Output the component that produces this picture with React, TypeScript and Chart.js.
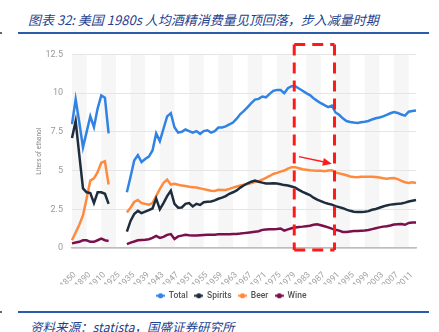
import React, { useEffect, useRef } from 'react';
import { Chart, registerables } from 'chart.js';

Chart.register(...registerables);

// ---- categories ----
const earlyLabels = ['1850', '1860', '1870', '1880', '1890', '1895', '1900', '1905', '1910', '1915', '1919'];
const gapLabels = ['1920', '1925', '1930', '1933'];
const modernYears: string[] = Array.from({ length: 80 }, (_, i) => String(1934 + i));
const categories = [...earlyLabels, ...gapLabels, ...modernYears];
const GAP: (number | null)[] = [null, null, null, null];

// ---- series (liters of ethanol per capita) ----
const totalEarly = [8.0, 9.6, 8.1, 6.5, 7.5, 8.5, 7.8, 9.0, 9.85, 9.7, 7.4];
const totalModern = [
  3.6, 4.6, 5.65, 6.0, 5.55, 5.75, 5.9, 6.3, 7.4, 6.9,
  7.7, 8.5, 8.7, 7.8, 7.45, 7.5, 7.65, 7.55, 7.45, 7.55,
  7.37, 7.55, 7.6, 7.45, 7.55, 7.78, 7.78, 7.85, 7.98, 8.1,
  8.35, 8.65, 8.85, 9.1, 9.35, 9.58, 9.63, 9.78, 9.73, 9.95,
  10.15, 10.2, 10.2, 10.0, 10.32, 10.45, 10.45, 10.3, 10.15, 10.0,
  9.87, 9.67, 9.5, 9.35, 9.22, 9.1, 9.2, 8.75, 8.6, 8.37,
  8.2, 8.14, 8.1, 8.07, 8.12, 8.15, 8.2, 8.3, 8.38, 8.43,
  8.5, 8.6, 8.7, 8.78, 8.72, 8.62, 8.55, 8.8, 8.85, 8.88,
];
const spiritsEarly = [7.1, 8.2, 6.0, 3.85, 3.6, 3.55, 2.9, 3.6, 3.6, 3.5, 2.85];
const spiritsModern = [
  1.06, 1.75, 2.2, 2.4, 2.25, 2.35, 2.45, 2.55, 3.2, 2.5,
  2.9, 3.35, 3.7, 2.85, 2.6, 2.62, 2.85, 2.9, 2.68, 2.85,
  2.78, 2.95, 2.98, 3.0, 3.07, 3.18, 3.25, 3.35, 3.5, 3.6,
  3.72, 3.9, 4.05, 4.18, 4.28, 4.35, 4.28, 4.22, 4.17, 4.16,
  4.18, 4.16, 4.12, 4.06, 4.04, 3.97, 3.9, 3.75, 3.62, 3.52,
  3.42, 3.25, 3.12, 3.03, 2.93, 2.86, 2.8, 2.7, 2.64, 2.57,
  2.48, 2.4, 2.34, 2.33, 2.33, 2.34, 2.38, 2.47, 2.52, 2.6,
  2.68, 2.75, 2.8, 2.83, 2.85, 2.88, 2.93, 3.0, 3.05, 3.1,
];
const beerEarly = [0.5, 1.0, 1.5, 2.1, 3.2, 4.35, 4.5, 4.9, 5.5, 5.6, 4.1];
const beerModern = [
  2.3, 2.6, 2.97, 3.1, 2.9, 2.85, 2.8, 2.9, 3.35, 3.8,
  4.2, 4.42, 4.1, 4.15, 4.08, 4.04, 4.0, 3.95, 3.93, 3.9,
  3.85, 3.8, 3.75, 3.7, 3.68, 3.76, 3.75, 3.75, 3.82, 3.9,
  3.97, 4.03, 4.08, 4.13, 4.2, 4.27, 4.31, 4.42, 4.53, 4.65,
  4.78, 4.85, 4.93, 5.0, 5.13, 5.22, 5.22, 5.15, 5.08, 5.05,
  5.02, 5.0, 4.99, 4.98, 4.95, 5.0, 5.02, 4.87, 4.82, 4.76,
  4.7, 4.62, 4.58, 4.57, 4.6, 4.6, 4.6, 4.6, 4.58, 4.55,
  4.5, 4.47, 4.5, 4.52, 4.45, 4.33, 4.25, 4.2, 4.25, 4.2,
];
const wineEarly = [0.3, 0.35, 0.4, 0.5, 0.5, 0.4, 0.4, 0.5, 0.6, 0.5, 0.45];
const wineModern = [
  0.25, 0.35, 0.42, 0.5, 0.52, 0.53, 0.57, 0.65, 0.78, 0.65,
  0.72, 0.85, 0.9, 0.58, 0.75, 0.8, 0.85, 0.82, 0.8, 0.8,
  0.82, 0.84, 0.85, 0.85, 0.86, 0.88, 0.88, 0.88, 0.89, 0.9,
  0.91, 0.93, 0.96, 0.99, 1.02, 1.05, 1.08, 1.17, 1.2, 1.21,
  1.21, 1.23, 1.26, 1.12, 1.2, 1.27, 1.33, 1.36, 1.38, 1.41,
  1.44, 1.5, 1.53, 1.47, 1.4, 1.33, 1.25, 1.18, 1.12, 1.04,
  1.03, 1.06, 1.09, 1.1, 1.12, 1.13, 1.16, 1.22, 1.28, 1.33,
  1.38, 1.41, 1.45, 1.52, 1.54, 1.55, 1.5, 1.62, 1.64, 1.64,
];

const seriesNames = ['Total', 'Spirits', 'Beer', 'Wine'];
const seriesColors = ['#3183e3', '#1e2d3d', '#ff8a3d', '#7b0f4b'];
const yTicks = [0, 2.5, 5, 7.5, 10, 12.5];

// annotation anchors (categories / values)
const boxFrom = '1980';
const boxTo = '1991';
const arrowFrom = { cat: '1981', value: 5.9 };
const arrowTo = { cat: '1990', value: 5.44 };

function makeMarker(color: string): HTMLCanvasElement {
  const c = document.createElement('canvas');
  c.width = 9;
  c.height = 7;
  const g = c.getContext('2d')!;
  g.strokeStyle = color;
  g.lineWidth = 2;
  g.beginPath();
  g.moveTo(0, 3.5);
  g.lineTo(9, 3.5);
  g.stroke();
  g.fillStyle = color;
  g.beginPath();
  g.arc(4.5, 3.5, 2.6, 0, Math.PI * 2);
  g.fill();
  return c;
}

const decorPlugin = {
  id: 'decor',
  afterLayout(chart: any) {
    const lg = chart.legend;
    if (lg) {
      lg.left += 7;
      lg.right += 7;
    }
  },
  beforeDraw(chart: any) {
    const { ctx, chartArea, scales } = chart;
    const x = scales.x;
    ctx.save();
    ctx.fillStyle = '#f6f6f6';
    const n = categories.length;
    for (let i = 0; i < n - 1; i += 8) {
      const x0 = x.getPixelForValue(i);
      const x1 = x.getPixelForValue(Math.min(i + 4, n - 1));
      ctx.fillRect(x0, chartArea.top, x1 - x0, chartArea.bottom - chartArea.top);
    }
    ctx.restore();
  },
  afterDraw(chart: any) {
    const { ctx, chartArea, scales } = chart;
    const x = scales.x;
    const y = scales.y;
    const left = x.getPixelForValue(categories.indexOf(boxFrom)) - 1;
    const right = x.getPixelForValue(categories.indexOf(boxTo)) - 1;
    const top = chartArea.top - 10;
    const bottom = chartArea.bottom + 2;
    ctx.save();
    ctx.strokeStyle = '#ff1a1a';
    ctx.lineWidth = 3;
    ctx.setLineDash([11, 7]);
    ctx.beginPath();
    ctx.moveTo(left, top);
    ctx.lineTo(right, top);
    ctx.moveTo(left, top);
    ctx.lineTo(left, bottom);
    ctx.moveTo(right, top);
    ctx.lineTo(right, bottom);
    ctx.moveTo(left, bottom);
    ctx.lineTo(right, bottom);
    ctx.stroke();
    ctx.setLineDash([]);
    // arrow
    const ax0 = x.getPixelForValue(categories.indexOf(arrowFrom.cat));
    const ay0 = y.getPixelForValue(arrowFrom.value);
    const ax1 = x.getPixelForValue(categories.indexOf(arrowTo.cat));
    const ay1 = y.getPixelForValue(arrowTo.value);
    const ang = Math.atan2(ay1 - ay0, ax1 - ax0);
    const head = 9;
    const bx = ax1 - head * Math.cos(ang);
    const by = ay1 - head * Math.sin(ang);
    ctx.strokeStyle = '#ff1a1a';
    ctx.fillStyle = '#ff1a1a';
    ctx.lineWidth = 1.5;
    ctx.beginPath();
    ctx.moveTo(ax0, ay0);
    ctx.lineTo(bx, by);
    ctx.stroke();
    ctx.beginPath();
    ctx.moveTo(ax1, ay1);
    ctx.lineTo(bx + 4 * Math.sin(ang), by - 4 * Math.cos(ang));
    ctx.lineTo(bx - 4 * Math.sin(ang), by + 4 * Math.cos(ang));
    ctx.closePath();
    ctx.fill();
    ctx.restore();
  },
};

export default function App() {
  const canvasRef = useRef<HTMLCanvasElement | null>(null);

  useEffect(() => {
    if (!canvasRef.current) return;
    const markers = seriesColors.map(makeMarker);
    const seriesData = [
      [...totalEarly, ...GAP, ...totalModern],
      [...spiritsEarly, ...GAP, ...spiritsModern],
      [...beerEarly, ...GAP, ...beerModern],
      [...wineEarly, ...GAP, ...wineModern],
    ];
    const chart = new Chart(canvasRef.current, {
      type: 'line',
      data: {
        labels: categories,
        datasets: seriesNames.map((name, i) => ({
          label: name,
          data: seriesData[i],
          borderColor: seriesColors[i],
          backgroundColor: seriesColors[i],
          borderWidth: 2.5,
          pointRadius: 0,
          tension: 0,
          spanGaps: false,
        })),
      },
      options: {
        animation: false,
        responsive: false,
        layout: { padding: { left: 33, right: 23, top: 12, bottom: 0 } },
        plugins: {
          tooltip: { enabled: false },
          legend: {
            position: 'bottom',
            labels: {
              usePointStyle: true,
              pointStyleWidth: 8,
              boxHeight: 7,
              padding: 7,
              color: '#555',
              font: { family: 'Roboto', size: 8.5, weight: '500' },
              generateLabels: (ch: any) => {
                const items = Chart.defaults.plugins.legend.labels.generateLabels(ch);
                items.forEach((it: any, i: number) => {
                  it.pointStyle = markers[i];
                });
                return items;
              },
            },
          },
        },
        scales: {
          x: {
            type: 'category',
            grid: { display: false },
            border: { display: true, color: '#bdbdbd', width: 1.5 },
            ticks: {
              autoSkip: false,
              maxRotation: 45,
              minRotation: 45,
              padding: 14,
              labelOffset: 3,
              color: '#a0a0a0',
              font: { family: 'Roboto', size: 8.5 },
              callback: (_v: any, i: number) => (i % 4 === 0 ? categories[i] : ''),
            },
            afterFit: (s: any) => {
              s.height = 36.5;
            },
          },
          y: {
            min: 0,
            max: 12.5,
            afterBuildTicks: (s: any) => {
              s.ticks = yTicks.map((v) => ({ value: v }));
            },
            ticks: {
              padding: 9,
              color: '#999',
              font: { family: 'Roboto', size: 9 },
            },
            grid: { color: '#e5e5e5', drawTicks: false },
            border: { display: false },
            title: {
              display: true,
              text: 'Liters of ethanol',
              color: '#888',
              font: { family: 'Roboto', size: 6.5 },
              padding: { top: 2, bottom: 0 },
            },
            afterFit: (s: any) => {
              s.width = 39;
            },
          },
        },
      },
      plugins: [decorPlugin],
    } as any);
    return () => chart.destroy();
  }, []);

  const blue = '#2a5caa';
  const textBlue = '#1f3f8f';
  return (
    <div
      style={{
        position: 'fixed',
        left: 0,
        top: 0,
        width: 439,
        height: 332,
        background: '#fff',
        overflow: 'hidden',
      }}
    >
      <div
        style={{
          position: 'absolute',
          left: 28,
          top: 12,
          fontFamily: '"Noto Sans CJK SC", sans-serif',
          fontStyle: 'italic',
          fontSize: 13,
          lineHeight: '16px',
          color: textBlue,
          whiteSpace: 'nowrap',
        }}
      >
        图表 32: 美国 1980s 人均酒精消费量见顶回落，步入减量时期
      </div>
      <div style={{ position: 'absolute', left: 18, top: 32, width: 411, height: 2, background: blue }} />
      <div style={{ position: 'absolute', left: 0, top: 32, width: 2, height: 2, background: '#666' }} />
      <canvas
        ref={canvasRef}
        width={439}
        height={270}
        style={{ position: 'absolute', left: 0, top: 40, width: 439, height: 270 }}
      />
      <div style={{ position: 'absolute', left: 18, top: 311, width: 411, height: 2, background: blue }} />
      <div style={{ position: 'absolute', left: 0, top: 311, width: 2, height: 2, background: '#666' }} />
      <div
        style={{
          position: 'absolute',
          left: 30,
          top: 319,
          fontFamily: '"Noto Sans CJK SC", sans-serif',
          fontStyle: 'italic',
          fontSize: 12.5,
          lineHeight: '16px',
          color: textBlue,
          whiteSpace: 'nowrap',
        }}
      >
        资料来源：statista，国盛证券研究所
      </div>
    </div>
  );
}
